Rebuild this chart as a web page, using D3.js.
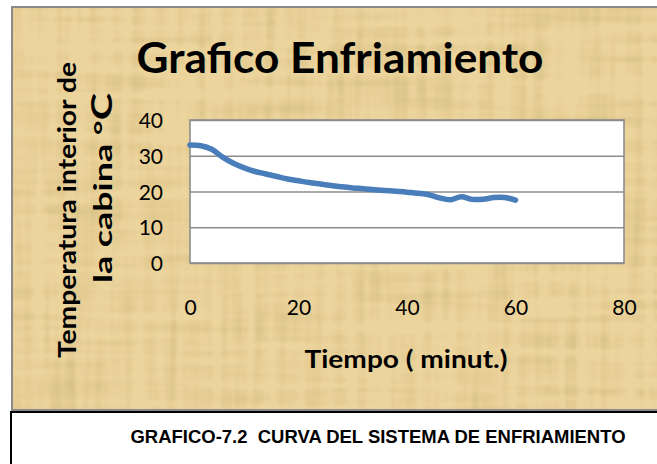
<!DOCTYPE html>
<html>
<head>
<meta charset="utf-8">
<script src="https://cdn.jsdelivr.net/npm/d3@7"></script>
<style>
  html, body { margin: 0; padding: 0; background: #ffffff; }
  svg { display: block; }
  text { white-space: pre; }
</style>
</head>
<body>
<svg id="chart" width="657" height="464"></svg>
<script>
// Cabin temperature readings (°C) taken every two minutes
const minutes = [0, 2, 4, 6, 8, 10, 12, 14, 16, 18, 20, 22, 24, 26, 28, 30,
                 32, 34, 36, 38, 40, 42, 44, 46, 48, 50, 52, 54, 56, 58, 60];
const temperatures = [33.0, 32.8, 31.8, 29.6, 27.9, 26.6, 25.6, 24.9, 24.2, 23.5, 23.0,
                      22.5, 22.1, 21.7, 21.3, 21.0, 20.8, 20.5, 20.3, 20.1, 19.8,
                      19.5, 19.1, 18.2, 17.7, 18.5, 17.8, 17.8, 18.3, 18.3, 17.6];
const xTicks = [0, 20, 40, 60, 80];
const yTicks = [0, 10, 20, 30, 40];
const chartTitle = "Grafico Enfriamiento";
const xTitle = "Tiempo ( minut.)";
const yTitleLines = ["Temperatura interior de", "la cabina °"];
const yTitleUnit = "C";
const caption = "GRAFICO-7.2  CURVA DEL SISTEMA DE ENFRIAMIENTO";

const svg = d3.select("#chart");
const W = 657, H = 464;
const plot = { left: 190, right: 624, top: 120, bottom: 263 };
const sans = "Lato, 'Open Sans', 'DejaVu Sans', sans-serif";

// Squeeze a text element to a given run length (narrow, Calibri-like setting)
function setLength(sel, width) {
  return sel.attr("textLength", width).attr("lengthAdjust", "spacingAndGlyphs");
}

// ---- papyrus-like background ----
const defs = svg.append("defs");
const paper = defs.append("filter").attr("id", "paper")
  .attr("x", 0).attr("y", 0).attr("width", "100%").attr("height", "100%");
paper.append("feTurbulence").attr("type", "fractalNoise")
  .attr("baseFrequency", "0.006 0.09").attr("numOctaves", 2).attr("seed", 4).attr("result", "h");
paper.append("feTurbulence").attr("type", "fractalNoise")
  .attr("baseFrequency", "0.09 0.006").attr("numOctaves", 2).attr("seed", 9).attr("result", "v");
paper.append("feComposite").attr("in", "h").attr("in2", "v")
  .attr("operator", "arithmetic").attr("k2", 0.5).attr("k3", 0.5).attr("result", "n");
paper.append("feColorMatrix").attr("in", "n").attr("type", "matrix")
  .attr("values", "0 0 0 0 0.55  0 0 0 0 0.42  0 0 0 0 0.15  2.2 0 0 0 -0.95");

const frame = { x: 12, y: 7, w: W, h: 403 };
svg.append("rect").attr("x", frame.x).attr("y", frame.y)
  .attr("width", frame.w).attr("height", frame.h).attr("fill", "#ecd49d");
svg.append("rect").attr("x", frame.x).attr("y", frame.y)
  .attr("width", frame.w).attr("height", frame.h)
  .attr("filter", "url(#paper)").attr("opacity", 0.6);
svg.append("rect").attr("x", frame.x).attr("y", frame.y)
  .attr("width", frame.w).attr("height", frame.h)
  .attr("fill", "none").attr("stroke", "#8a8a8a").attr("stroke-width", 2);

// ---- scales ----
const x = d3.scaleLinear().domain([0, 80]).range([plot.left, plot.right]);
const y = d3.scaleLinear().domain([0, 40]).range([plot.bottom, plot.top]);

// plot area
svg.append("rect").attr("x", plot.left).attr("y", plot.top)
  .attr("width", plot.right - plot.left).attr("height", plot.bottom - plot.top)
  .attr("fill", "#ffffff");

// horizontal gridlines
svg.append("g").attr("transform", `translate(${plot.left},0)`)
  .call(d3.axisLeft(y).tickValues(yTicks).tickSize(-(plot.right - plot.left)).tickFormat(""))
  .call(g => g.select(".domain").remove())
  .call(g => g.selectAll("line").attr("stroke", "#8c8c8c").attr("stroke-width", 1.6));

// plot border
svg.append("rect").attr("x", plot.left).attr("y", plot.top)
  .attr("width", plot.right - plot.left).attr("height", plot.bottom - plot.top)
  .attr("fill", "none").attr("stroke", "#8c8c8c").attr("stroke-width", 1.6);

// y tick labels
svg.append("g").attr("transform", `translate(${plot.left - 27},0)`)
  .call(d3.axisLeft(y).tickValues(yTicks).tickSize(0).tickPadding(0))
  .call(g => g.select(".domain").remove())
  .call(g => g.selectAll("text").attr("font-family", sans).attr("font-size", 21)
    .attr("fill", "#000").attr("dy", "0.36em"));

// x tick labels
svg.append("g").attr("transform", `translate(0,${plot.bottom})`)
  .call(d3.axisBottom(x).tickValues(xTicks).tickSize(0).tickPadding(52))
  .call(g => g.select(".domain").remove())
  .call(g => g.selectAll("text").attr("font-family", sans).attr("font-size", 21)
    .attr("fill", "#000").attr("dy", "0"));

// temperature curve
const line = d3.line()
  .x((d, i) => x(minutes[i]))
  .y(d => y(d))
  .curve(d3.curveCatmullRom.alpha(0.5));
svg.append("path").datum(temperatures)
  .attr("d", line)
  .attr("fill", "none").attr("stroke", "#4a7ebb")
  .attr("stroke-width", 5.5).attr("stroke-linecap", "round").attr("stroke-linejoin", "round");

// chart title
setLength(svg.append("text").attr("x", 340).attr("y", 73)
  .attr("text-anchor", "middle").attr("font-family", sans).attr("font-weight", 700)
  .attr("font-size", 42).text(chartTitle), 407);

// x axis title
setLength(svg.append("text").attr("x", 406).attr("y", 368)
  .attr("text-anchor", "middle").attr("font-family", sans).attr("font-weight", 700)
  .attr("font-size", 25).text(xTitle), 203);

// y axis title (two rotated lines)
setLength(svg.append("text").attr("transform", "translate(76,210) rotate(-90)")
  .attr("text-anchor", "middle").attr("font-family", sans).attr("font-weight", 700)
  .attr("font-size", 25).text(yTitleLines[0]), 296);
const y2 = svg.append("text").attr("transform", "translate(112,188) rotate(-90)")
  .attr("text-anchor", "middle").attr("font-family", sans).attr("font-weight", 700)
  .attr("font-size", 25);
y2.append("tspan").text(yTitleLines[1]);
y2.append("tspan").attr("font-size", "1.15em").text(yTitleUnit);
setLength(y2, 190);

// caption box
svg.append("rect").attr("x", 11).attr("y", 412).attr("width", W + 10).attr("height", 60)
  .attr("fill", "#ffffff").attr("stroke", "#000").attr("stroke-width", 2);
setLength(svg.append("text").attr("x", 378).attr("y", 443)
  .attr("text-anchor", "middle").attr("font-family", "'Liberation Sans', Arial, sans-serif")
  .attr("font-weight", 700).attr("font-size", 18.5).text(caption), 495);
</script>
</body>
</html>
